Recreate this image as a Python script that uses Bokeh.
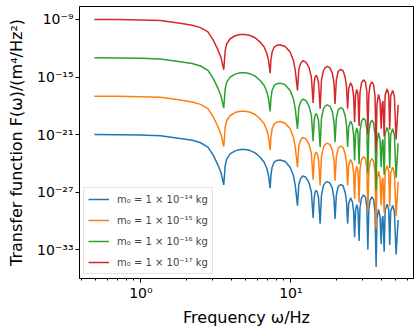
from bokeh.plotting import figure
from bokeh.models import Range1d, FixedTicker
from bokeh.embed import file_html
from bokeh.resources import INLINE

# Frequencies (Hz)
freq = [
    0.49, 0.7, 1.0, 1.35, 1.83, 2.2, 2.5, 2.8, 3.05, 3.25, 3.42, 3.57,
    3.65, 3.74, 3.94, 4.25, 4.59, 4.96, 5.35, 5.78, 6.24, 6.64, 6.92, 7.10, 7.28,
    7.36, 7.50, 7.74, 8.07, 8.48, 9.16, 9.89, 10.4, 10.7, 11.07,
    11.3, 11.6, 12.0, 12.6, 13.2, 13.7, 14.08,
    14.3, 14.5, 14.75, 15.0, 15.3, 15.67,
    16.0, 16.5, 17.0, 17.5, 18.2, 18.9, 19.4, 19.7,
    20.1, 20.7, 21.5, 22.3, 23.0, 23.5, 23.9,
    24.3, 25.0, 25.7, 26.2, 26.6,
    27.0, 27.5, 28.0, 28.5,
    28.9, 29.6, 30.5, 31.4, 32.1, 32.6,
    33.1, 33.8, 34.7, 35.6, 36.4, 37.0,
    37.5, 38.4, 39.3, 40.0,
    40.6, 41.1, 41.9,
    42.5, 43.8, 44.9, 45.6,
    46.3, 47.7, 49.0, 50.3,
    51.9,
]

# Curve shape, in decades relative to the low-frequency plateau (same for all masses)
shape_decades = [
    0, -0.01, -0.05, -0.12, -0.4, -0.6, -0.85, -1.3, -2.2, -3.1, -3.95, -5.24,
    -3.23, -2.53, -2.01, -1.70, -1.56, -1.56, -1.67, -1.91, -2.36, -2.88, -3.57, -4.27, -5.59,
    -4.27, -3.40, -2.88, -2.70, -2.64, -2.81, -3.40, -4.27, -5.3, -7.4,
    -5.2, -4.6, -4.3, -4.45, -5.0, -6.0, -8.7,
    -6.6, -6.0, -5.82, -6.0, -6.6, -9.3,
    -6.3, -5.3, -5.0, -4.9, -5.05, -5.6, -6.7, -8.8,
    -6.3, -5.4, -5.2, -5.35, -6.0, -7.0, -9.3,
    -7.2, -6.6, -7.0, -8.0, -10.7,
    -7.9, -7.3, -7.8, -11.1,
    -7.6, -6.6, -6.3, -6.5, -7.5, -12.0,
    -7.8, -6.8, -6.5, -6.8, -8.0, -13.8,
    -8.8, -7.8, -8.5, -11.4,
    -8.8, -8.5, -12.2,
    -7.9, -7.25, -7.8, -11.5,
    -8.0, -7.4, -8.0, -12.5,
    -8.9,
]

# Plateau level of each curve, one per mass
plateau = [1e-21, 1e-17, 1e-13, 1e-9]
labels = [
    "m\u2080 = 1 \u00d7 10\u207b\u00b9\u2074 kg",
    "m\u2080 = 1 \u00d7 10\u207b\u00b9\u2075 kg",
    "m\u2080 = 1 \u00d7 10\u207b\u00b9\u2076 kg",
    "m\u2080 = 1 \u00d7 10\u207b\u00b9\u2077 kg",
]
colors = ["#1f77b4", "#ff7f0e", "#2ca02c", "#d62728"]

x_ticks = [1.0, 10.0]
x_tick_labels = ["10\u2070", "10\u00b9"]
x_minor = [0.4, 0.5, 0.6, 0.7, 0.8, 0.9, 2, 3, 4, 5, 6, 7, 8, 9, 20, 30, 40, 50, 60]
y_ticks = [1e-33, 1e-27, 1e-21, 1e-15, 1e-9]
y_tick_labels = ["10\u207b\u00b3\u00b3", "10\u207b\u00b2\u2077", "10\u207b\u00b2\u00b9",
                 "10\u207b\u00b9\u2075", "10\u207b\u2079"]

FONT = "DejaVu Sans"

p = figure(frame_width=334, frame_height=272, x_axis_type="log", y_axis_type="log",
           x_range=Range1d(0.39, 65.7), y_range=Range1d(1e-36, 2.24e-8),
           output_backend="svg", toolbar_location=None,
           min_border_left=79, min_border_right=1, min_border_top=6, min_border_bottom=10)

for lvl, lab, col in zip(plateau, labels, colors):
    ys = [lvl * 10 ** s for s in shape_decades]
    p.line(freq, ys, line_color=col, line_width=1.5, legend_label=lab)

p.xgrid.visible = False
p.ygrid.visible = False
p.outline_line_color = "black"
p.outline_line_width = 1
p.background_fill_color = "white"
p.border_fill_color = "white"

p.xaxis.ticker = FixedTicker(ticks=x_ticks, minor_ticks=x_minor)
p.xaxis.major_label_overrides = dict(zip(x_ticks, x_tick_labels))
p.yaxis.ticker = FixedTicker(ticks=y_ticks, minor_ticks=[])
p.yaxis.major_label_overrides = dict(zip(y_ticks, y_tick_labels))

for ax in (p.xaxis[0], p.yaxis[0]):
    ax.axis_line_color = "black"
    ax.major_tick_line_color = "black"
    ax.minor_tick_line_color = "black"
    ax.major_tick_in = 0
    ax.major_tick_out = 4
    ax.minor_tick_in = 0
    ax.minor_tick_out = 2
    ax.major_label_text_font = FONT
    ax.major_label_text_font_size = "14px"
    ax.major_label_text_color = "black"
    ax.major_label_text_line_height = 1.0
    ax.axis_label_text_font = FONT
    ax.axis_label_text_font_size = "16px"
    ax.axis_label_text_font_style = "normal"
    ax.axis_label_text_color = "black"
    ax.axis_label_text_line_height = 1.0

p.xaxis.axis_label = "Frequency \u03c9/Hz"
p.yaxis.axis_label = "Transfer function F(\u03c9)/(m\u2074/Hz\u00b2)"
p.xaxis.major_label_standoff = 2
p.yaxis.major_label_standoff = 2
p.xaxis.axis_label_standoff = 4
p.yaxis.axis_label_standoff = 8

leg = p.legend[0]
leg.location = "bottom_left"
leg.margin = 4
leg.padding = 4
leg.spacing = 7
leg.glyph_width = 21
leg.glyph_height = 14
leg.label_height = 14
leg.label_standoff = 8
leg.label_text_font = FONT
leg.label_text_font_size = "10px"
leg.border_line_color = "#cccccc"
leg.border_line_width = 1
leg.background_fill_alpha = 0.8

open("out.html", "w").write(file_html(p, INLINE))
